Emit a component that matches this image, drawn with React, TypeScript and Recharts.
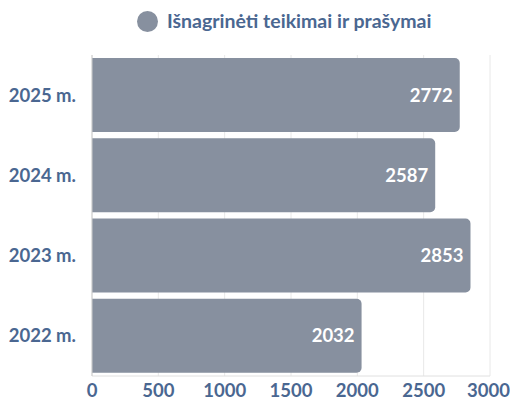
import React from "react";
import {
  BarChart,
  Bar,
  XAxis,
  YAxis,
  CartesianGrid,
  Legend,
  LabelList,
} from "recharts";

const years = ["2025 m.", "2024 m.", "2023 m.", "2022 m."];
const reviewed = [2772, 2587, 2853, 2032];
const xTicks = [0, 500, 1000, 1500, 2000, 2500, 3000];
const seriesName = "Išnagrinėti teikimai ir prašymai";

const data = years.map((year, i) => ({ year, reviewed: reviewed[i] }));

const textColor = "#4a6791";
const barColor = "#87909f";
const tickFont = { fontFamily: "Lato", fontWeight: 700, fontSize: 18.5, fill: textColor };

function LegendContent() {
  return (
    <div
      style={{
        display: "flex",
        alignItems: "center",
        justifyContent: "flex-start",
        fontFamily: "Lato",
        fontWeight: 700,
        fontSize: 19.5,
        lineHeight: "22px",
        color: textColor,
        paddingLeft: 137,
      }}
    >
      <span
        style={{
          width: 21,
          height: 21,
          borderRadius: "50%",
          background: barColor,
          marginRight: 9,
          display: "inline-block",
        }}
      />
      {seriesName}
    </div>
  );
}

export default function App() {
  return (
    <div style={{ position: "absolute", left: 0, top: 0, background: "#fff" }}>
      <BarChart
        width={510}
        height={405}
        data={data}
        layout="vertical"
        margin={{ top: 33, right: 20, bottom: 0, left: 0 }}
        barCategoryGap={3}
      >
        <CartesianGrid horizontal={false} stroke="#e8e8e8" />
        <XAxis
          type="number"
          domain={[0, 3000]}
          ticks={xTicks}
          height={29}
          axisLine={{ stroke: "#e0e0e0" }}
          tickLine={false}
          tick={tickFont}
        />
        <YAxis
          type="category"
          dataKey="year"
          width={92}
          axisLine={{ stroke: "#cccccc" }}
          tickLine={false}
          tickMargin={10}
          tick={tickFont}
        />
        <Legend
          verticalAlign="top"
          content={<LegendContent />}
          wrapperStyle={{ top: 10, left: 0, width: 510 }}
        />
        <Bar
          dataKey="reviewed"
          name={seriesName}
          fill={barColor}
          radius={[0, 5, 5, 0]}
          isAnimationActive={false}
        >
          <LabelList
            dataKey="reviewed"
            position="insideRight"
            offset={7}
            style={{ fontFamily: "Lato", fontWeight: 700, fontSize: 18.5, fill: "#ffffff" }}
          />
        </Bar>
      </BarChart>
    </div>
  );
}
